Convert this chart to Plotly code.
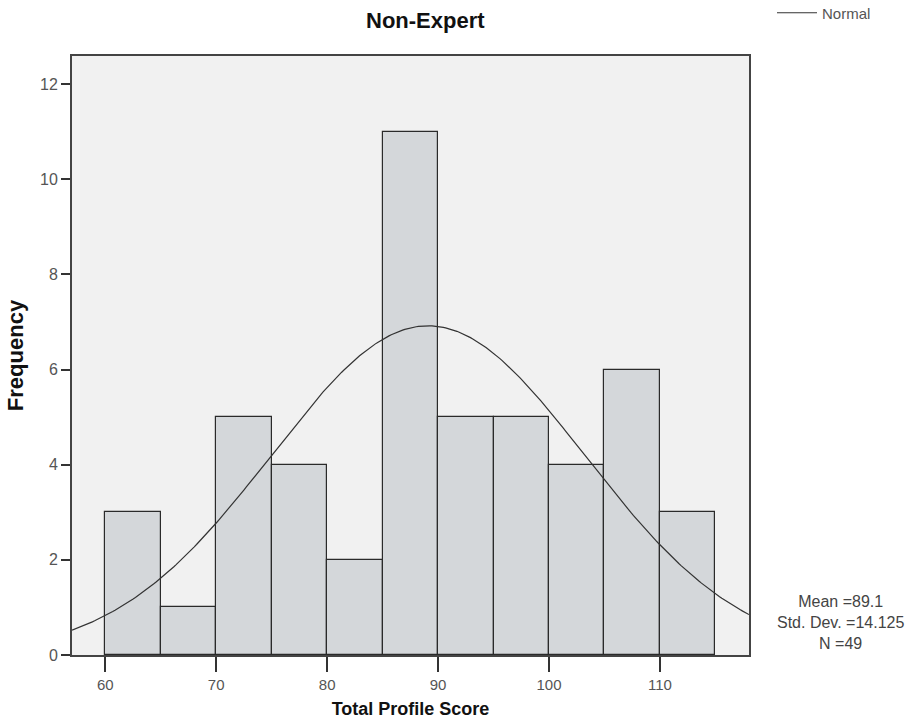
import numpy as np
import plotly.graph_objects as go

# Data
bin_starts = [60, 65, 70, 75, 80, 85, 90, 95, 100, 105, 110]
bin_width = 5
counts = [3, 1, 5, 4, 2, 11, 5, 5, 4, 6, 3]
mean_val = 89.1
std_val = 14.125
n_val = 49
x_ticks = [60, 70, 80, 90, 100, 110]
y_ticks = [0, 2, 4, 6, 8, 10, 12]

centers = [b + bin_width / 2 for b in bin_starts]

# Normal curve fitted with the given mean / sd, scaled to counts
xs = np.linspace(57.0, 118.03, 300)
ys = n_val * bin_width / (std_val * np.sqrt(2 * np.pi)) * np.exp(-0.5 * ((xs - mean_val) / std_val) ** 2)

W, H = 922, 719
ML, MR, MT, MB = 72, 173, 56, 64
plot_w = W - ML - MR
plot_h = H - MT - MB


def px_to_paper_x(px):
    return (px - ML) / plot_w


def px_to_paper_y(py):
    return (H - MB - py) / plot_h


fig = go.Figure()
fig.add_trace(go.Bar(
    x=centers, y=counts, width=bin_width,
    marker=dict(color="#d4d7da", line=dict(color="#2a2a2a", width=1.2)),
    showlegend=False, hoverinfo="x+y",
))
fig.add_trace(go.Scatter(
    x=xs, y=ys, mode="lines", name="Normal",
    line=dict(color="#333333", width=1.2),
))

font_fam = "Liberation Sans, Arial, sans-serif"
fig.update_layout(
    width=W, height=H,
    margin=dict(l=ML, r=MR, t=MT, b=MB, autoexpand=False),
    paper_bgcolor="white",
    plot_bgcolor="#f1f1f1",
    font=dict(family=font_fam, color="#444444"),
    bargap=0,
    legend=dict(
        x=px_to_paper_x(772), y=px_to_paper_y(13), xanchor="left", yanchor="middle",
        bgcolor="rgba(0,0,0,0)", font=dict(size=15, color="#555555"),
        itemwidth=40,
    ),
    xaxis=dict(
        range=[57.0, 118.03], tickvals=x_ticks, ticks="outside", ticklen=15,
        tickcolor="#333333", tickwidth=1.5, showgrid=False, zeroline=False,
        showline=True, linecolor="#444444", linewidth=2, mirror=True,
        tickfont=dict(size=15, color="#555555"),
        title=dict(text="<b>Total Profile Score</b>", font=dict(size=18, color="#111111"), standoff=14),
    ),
    yaxis=dict(
        range=[0, 12.59], tickvals=y_ticks, ticks="outside", ticklen=9,
        tickcolor="#333333", tickwidth=1.5, showgrid=False, zeroline=False,
        showline=True, linecolor="#444444", linewidth=2, mirror=True,
        tickfont=dict(size=16, color="#555555"),
        title=dict(text="<b>Frequency</b>", font=dict(size=22, color="#111111"), standoff=10),
    ),
    annotations=[
        dict(text="<b>Non-Expert</b>", x=px_to_paper_x(425), y=px_to_paper_y(20),
             xref="paper", yref="paper", xanchor="center", yanchor="middle", showarrow=False,
             font=dict(size=22, color="#111111")),
        dict(text="Mean =%s<br>Std. Dev. =%s<br>N =%d" % (mean_val, std_val, n_val),
             x=px_to_paper_x(840), y=px_to_paper_y(622), xref="paper", yref="paper",
             xanchor="center", yanchor="middle",
             showarrow=False, align="center", font=dict(size=16, color="#444444")),
    ],
)

fig.write_html("out.html", config={"displayModeBar": False},
               post_script="document.body.style.margin='0px';")
